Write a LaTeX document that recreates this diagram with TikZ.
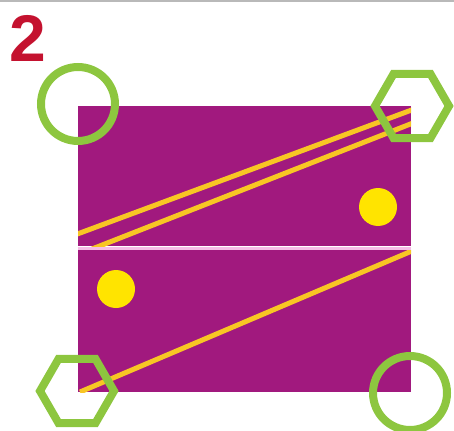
\documentclass[tikz,border=0pt]{standalone}
\usepackage{fontspec}
\setmainfont{Liberation Sans}
\definecolor{panelpurple}{HTML}{A1197E}
\definecolor{ringgreen}{HTML}{8DC63F}
\definecolor{stripeyellow}{HTML}{F8C624}
\definecolor{dotyellow}{HTML}{FFE400}
\definecolor{numred}{HTML}{C4122F}
\definecolor{divpink}{HTML}{F6BCE6}
\tikzset{
  panel/.style={fill=panelpurple},
  stripe/.style={draw=stripeyellow, line width=5pt},
  dot/.style={fill=dotyellow},
  ring/.style={draw=ringgreen, line width=8pt},
}
\begin{document}
\begin{tikzpicture}[x=1pt,y=-1pt]
\useasboundingbox (0,0) rectangle (454,430);
\fill[gray!55] (0,0) rectangle (454,2.5);
% panels
\fill[panel] (78,106) rectangle (411,246);
\fill[panel] (78,250) rectangle (411,392);
\fill[divpink] (78,246.5) rectangle (411,249.5);
% stripes in upper panel
\begin{scope}
  \clip (78,106) rectangle (411,246);
  \draw[stripe] (76,234.5) -- (413,109.5);
  \draw[stripe] (92,249) -- (413,123);
\end{scope}
% stripe in lower panel
\begin{scope}
  \clip (78,250) rectangle (411,392);
  \draw[stripe] (80,392) -- (413,250.5);
\end{scope}
% dots
\fill[dot] (378,207) circle (19);
\fill[dot] (116,289) circle (19);
% green markers
\draw[ring] (78,104) circle (37);
\draw[ring] (410,393) circle (37);
\draw[ring] (412,106) +(0:37) -- +(60:37) -- +(120:37) -- +(180:37) -- +(240:37) -- +(300:37) -- cycle;
\draw[ring] (77,391) +(0:37) -- +(60:37) -- +(120:37) -- +(180:37) -- +(240:37) -- +(300:37) -- cycle;
% number
\node[inner sep=0pt, text=numred, font=\fontsize{66}{66}\selectfont\bfseries] (num) at (27.5,38.5) {2};
\end{tikzpicture}
\end{document}
